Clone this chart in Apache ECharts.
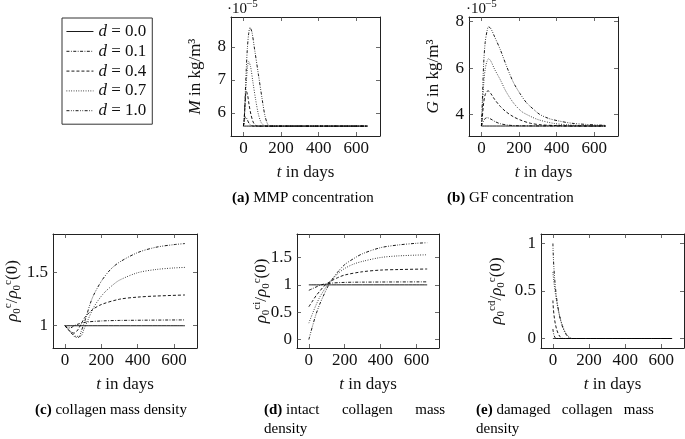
<!DOCTYPE html>
<html><head><meta charset="utf-8">
<script src="https://cdn.jsdelivr.net/npm/echarts@6/dist/echarts.min.js"></script>
<style>html,body{margin:0;padding:0;background:#fff}#c{width:685px;height:439px}</style>
</head><body><div id="c"></div>
<script>
// ---------- data ----------
const seriesNames = ['d = 0.0', 'd = 0.1', 'd = 0.4', 'd = 0.7', 'd = 1.0'];
const xTickValues = [0, 200, 400, 600];

// (a) MMP concentration, x 1e-5 kg/m^3
const mmpT0 = [0, 660], mmpV0 = [5.6, 5.6];
const mmpT1 = [0, 4, 8, 12, 20, 30, 42, 55, 660], mmpV1 = [5.6, 5.72, 5.85, 5.88, 5.8, 5.68, 5.62, 5.6, 5.6];
const mmpT2 = [0, 4, 8, 12, 16, 22, 30, 40, 52, 65, 78, 660], mmpV2 = [5.6, 5.8, 6.2, 6.55, 6.65, 6.55, 6.25, 5.95, 5.72, 5.62, 5.6, 5.6];
const mmpT3 = [0, 5, 10, 15, 22, 28, 38, 50, 65, 80, 95, 110, 125, 660], mmpV3 = [5.6, 5.85, 6.4, 6.9, 7.4, 7.55, 7.4, 6.95, 6.4, 5.95, 5.7, 5.62, 5.6, 5.6];
const mmpT4 = [0, 5, 10, 15, 21, 28, 35, 45, 60, 80, 100, 115, 130, 145, 660], mmpV4 = [5.6, 5.9, 6.6, 7.3, 7.95, 8.4, 8.58, 8.45, 7.9, 7.15, 6.4, 5.9, 5.65, 5.6, 5.6];

// (b) GF concentration, x 1e-5 kg/m^3
const gfT0 = [0, 660], gfV0 = [3.5, 3.5];
const gfT1 = [0, 5, 15, 30, 50, 75, 100, 140, 200, 660], gfV1 = [3.5, 3.6, 3.78, 3.86, 3.8, 3.68, 3.6, 3.54, 3.51, 3.5];
const gfT2 = [0, 5, 12, 20, 30, 38, 50, 70, 100, 130, 170, 210, 260, 320, 400, 500, 660], gfV2 = [3.5, 3.9, 4.5, 4.85, 5.0, 5.01, 4.9, 4.65, 4.35, 4.12, 3.9, 3.75, 3.62, 3.55, 3.52, 3.5, 3.5];
const gfT3 = [0, 5, 12, 20, 30, 38, 50, 70, 100, 130, 170, 210, 240, 300, 380, 460, 560, 660], gfV3 = [3.5, 4.2, 5.3, 5.95, 6.3, 6.4, 6.3, 5.95, 5.5, 5.0, 4.5, 4.15, 4.0, 3.78, 3.62, 3.55, 3.51, 3.5];
const gfT4 = [0, 5, 12, 20, 30, 38, 50, 70, 100, 135, 170, 205, 240, 280, 310, 360, 416, 480, 556, 660], gfV4 = [3.5, 4.6, 6.2, 7.1, 7.6, 7.78, 7.7, 7.35, 6.8, 6.05, 5.38, 4.9, 4.5, 4.2, 4.0, 3.82, 3.71, 3.62, 3.57, 3.53];

// (c) collagen mass density
const colT0 = [0, 660], colV0 = [1, 1];
const colT1 = [0, 15, 30, 50, 80, 120, 200, 300, 660], colV1 = [1, 0.98, 0.98, 1.0, 1.02, 1.035, 1.045, 1.05, 1.055];
const colT2 = [0, 25, 50, 70, 90, 110, 150, 200, 300, 400, 500, 660], colV2 = [1, 0.95, 0.93, 0.96, 1.02, 1.08, 1.15, 1.2, 1.25, 1.27, 1.28, 1.29];
const colT3 = [0, 30, 60, 85, 105, 125, 160, 210, 260, 300, 400, 500, 600, 660], colV3 = [1, 0.95, 0.9, 0.9, 0.97, 1.05, 1.18, 1.3, 1.38, 1.43, 1.5, 1.53, 1.545, 1.55];
const colT4 = [0, 20, 40, 60, 75, 90, 110, 150, 200, 250, 300, 400, 500, 600, 660], colV4 = [1, 0.96, 0.92, 0.89, 0.89, 0.95, 1.05, 1.26, 1.42, 1.53, 1.6, 1.69, 1.74, 1.765, 1.775];

// (d) intact collagen mass density
const intT0 = [0, 660], intV0 = [1, 1];
const intT1 = [0, 20, 40, 60, 80, 120, 200, 300, 660], intV1 = [0.9, 0.93, 0.96, 0.99, 1.01, 1.03, 1.045, 1.05, 1.055];
const intT2 = [0, 20, 40, 60, 80, 100, 130, 160, 200, 300, 400, 500, 660], intV2 = [0.6, 0.7, 0.8, 0.88, 0.96, 1.02, 1.08, 1.13, 1.18, 1.24, 1.27, 1.28, 1.29];
const intT3 = [0, 20, 40, 60, 80, 100, 130, 160, 200, 250, 300, 400, 500, 660], intV3 = [0.3, 0.47, 0.63, 0.77, 0.88, 0.98, 1.1, 1.2, 1.3, 1.38, 1.43, 1.5, 1.53, 1.55];
const intT4 = [0, 20, 40, 60, 80, 100, 120, 160, 200, 250, 300, 400, 500, 600, 660], intV4 = [0, 0.24, 0.46, 0.64, 0.79, 0.93, 1.05, 1.23, 1.37, 1.48, 1.57, 1.68, 1.73, 1.76, 1.77];

// (e) damaged collagen mass density
const damT0 = [0, 660], damV0 = [0, 0];
const damT1 = [0, 20, 660], damV1 = [0.1, 0, 0];
const damT2 = [0, 58, 660], damV2 = [0.4, 0, 0];
const damT3 = [0, 110, 660], damV3 = [0.7, 0, 0];
const damT4 = [0, 105, 660], damV4 = [1, 0, 0];

const yTicksA = [6, 7, 8];
const yTicksB = [4, 6, 8];
const yTicksC = [1, 1.5];
const yTicksD = [0, 0.5, 1, 1.5];
const yTicksE = [0, 0.5, 1];

// ---------- build ----------
const FONT = 'Liberation Serif';
const zip = (t, v) => t.map((x, i) => [x, v[i]]);
const dashes = ['solid', [3, 1.5, 0.8, 1.5], [3, 2], [0.8, 1.6], [3, 1.5, 0.8, 1.5, 0.8, 1.5]];

const panels = [
  {grid: {left: 231, top: 17, width: 149, height: 119}, ymin: 5.3, ymax: 8.9, yt: yTicksA,
   name: '{i|M} in kg/m³', gap: 25,
   data: [[mmpT0, mmpV0], [mmpT1, mmpV1], [mmpT2, mmpV2], [mmpT3, mmpV3], [mmpT4, mmpV4]]},
  {grid: {left: 469, top: 17, width: 149, height: 119}, ymin: 3.07, ymax: 8.2, yt: yTicksB,
   name: '{i|G} in kg/m³', gap: 25,
   data: [[gfT0, gfV0], [gfT1, gfV1], [gfT2, gfV2], [gfT3, gfV3], [gfT4, gfV4]]},
  {grid: {left: 53, top: 234, width: 144, height: 114}, ymin: 0.79, ymax: 1.865, yt: yTicksC,
   name: '{i|ρ}{sb|0}{sp|c}/{i|ρ}{sb|0}{sp|c}(0)', gap: 30,
   data: [[colT0, colV0], [colT1, colV1], [colT2, colV2], [colT3, colV3], [colT4, colV4]]},
  {grid: {left: 297, top: 234, width: 142, height: 114}, ymin: -0.155, ymax: 1.93, yt: yTicksD,
   name: '{i|ρ}{sb|0}{sp|ci}/{i|ρ}{sb|0}{sp|c}(0)', gap: 25,
   data: [[intT0, intV0], [intT1, intV1], [intT2, intV2], [intT3, intV3], [intT4, intV4]]},
  {grid: {left: 541, top: 234, width: 143, height: 114}, ymin: -0.1, ymax: 1.1, yt: yTicksE,
   name: '{i|ρ}{sb|0}{sp|cd}/{i|ρ}{sb|0}{sp|c}(0)', gap: 34,
   data: [[damT0, damV0], [damT1, damV1], [damT2, damV2], [damT3, damV3], [damT4, damV4]]}
];

const nameRich = {
  i: {fontFamily: FONT, fontStyle: 'italic', fontSize: 17, lineHeight: 20},
  sb: {fontFamily: FONT, fontSize: 11, lineHeight: 20, verticalAlign: 'bottom'},
  sp: {fontFamily: FONT, fontSize: 11, lineHeight: 20, verticalAlign: 'top'}
};
const axLine = {show: true, onZero: false, lineStyle: {color: '#222', width: 1}};
const tickStyle = {color: '#444', width: 0.8};

const grid = [], xAxis = [], yAxis = [], series = [];
panels.forEach((p, k) => {
  grid.push(Object.assign({}, p.grid, {containLabel: false}));
  xAxis.push({type: 'value', gridIndex: k, min: -66, max: 726, position: 'bottom',
    axisLine: axLine, splitLine: {show: false},
    axisTick: {inside: true, length: 4, lineStyle: tickStyle, customValues: xTickValues},
    axisLabel: {customValues: xTickValues, fontFamily: FONT, fontSize: 17, color: '#111', margin: 4},
    name: '{i|t} in days', nameLocation: 'middle', nameGap: 27, nameMoveOverlap: false,
    nameTextStyle: {fontFamily: FONT, fontSize: 17, color: '#111', rich: nameRich}});
  xAxis.push({type: 'value', gridIndex: k, min: -66, max: 726, position: 'top',
    axisLine: axLine, splitLine: {show: false},
    axisTick: {inside: true, length: 4, lineStyle: tickStyle, customValues: xTickValues},
    axisLabel: {show: false}});
  yAxis.push({type: 'value', gridIndex: k, min: p.ymin, max: p.ymax, position: 'left',
    axisLine: axLine, splitLine: {show: false},
    axisTick: {inside: true, length: 4, lineStyle: tickStyle, customValues: p.yt},
    axisLabel: {customValues: p.yt, fontFamily: FONT, fontSize: 17, color: '#111', margin: 5},
    name: p.name, nameLocation: 'middle', nameGap: p.gap, nameRotate: 90, nameMoveOverlap: false,
    nameTextStyle: {fontFamily: FONT, fontSize: 17, color: '#111', rich: nameRich}});
  yAxis.push({type: 'value', gridIndex: k, min: p.ymin, max: p.ymax, position: 'right',
    axisLine: axLine, splitLine: {show: false},
    axisTick: {inside: true, length: 4, lineStyle: tickStyle, customValues: p.yt},
    axisLabel: {show: false}});
  p.data.forEach((d, j) => {
    series.push({type: 'line', name: seriesNames[j], xAxisIndex: 2 * k, yAxisIndex: 2 * k,
      data: zip(d[0], d[1]), symbol: 'none', smooth: 0.3, silent: true,
      itemStyle: {color: '#000'},
      lineStyle: {color: '#000', width: 0.9, type: dashes[j]}, z: 10 - j});
  });
});

const capRich = {
  b: {fontFamily: FONT, fontWeight: 'bold', fontSize: 15, fill: '#000'},
  n: {fontFamily: FONT, fontSize: 15, fill: '#000'}
};
function cap(x, y, txt) {
  return {type: 'text', left: x, top: y, style: {text: txt, rich: capRich, font: '15px ' + FONT, fill: '#000'}};
}

const option = {
  animation: false,
  backgroundColor: '#fff',
  grid, xAxis, yAxis, series,
  legend: {
    data: seriesNames, orient: 'vertical', left: 62, top: 18,
    borderColor: '#333', borderWidth: 1, padding: [5, 6, 5, 4],
    itemWidth: 27, itemHeight: 8, itemGap: 2.8, selectedMode: false,
    itemStyle: {opacity: 0},
    lineStyle: {width: 0.9, color: '#000'},
    formatter: n => '{i|d} = ' + n.split('= ')[1],
    textStyle: {fontFamily: FONT, fontSize: 17, color: '#111', lineHeight: 17,
      rich: {i: {fontFamily: FONT, fontStyle: 'italic', fontSize: 17, lineHeight: 17}}}
  },
  graphic: [
    {type: 'text', left: 227, top: 2, style: {text: '·10', font: '15px ' + FONT, fill: '#111'}},
    {type: 'text', left: 246, top: -1, style: {text: '−5', font: '11px ' + FONT, fill: '#111'}},
    {type: 'text', left: 466, top: 2, style: {text: '·10', font: '15px ' + FONT, fill: '#111'}},
    {type: 'text', left: 485, top: -1, style: {text: '−5', font: '11px ' + FONT, fill: '#111'}},
    cap(232, 191, '{b|(a)} {n|MMP concentration}'),
    cap(447, 191, '{b|(b)} {n|GF concentration}'),
    cap(35, 403, '{b|(c)} {n|collagen mass density}'),
    cap(264, 403, '{b|(d)} {n|intact      collagen      mass}'),
    cap(264, 422, '{n|density}'),
    cap(476, 403, '{b|(e)} {n|damaged   collagen   mass}'),
    cap(476, 422, '{n|density}')
  ]
};
const chart = echarts.init(document.getElementById('c'), null, {renderer: 'canvas'});
chart.setOption(option);
</script></body></html>
